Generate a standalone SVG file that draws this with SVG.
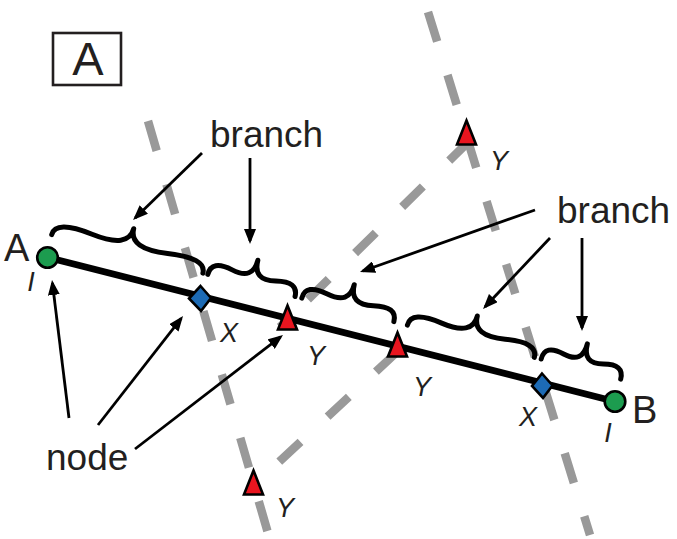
<svg xmlns="http://www.w3.org/2000/svg" width="677" height="539" viewBox="0 0 677 539">
  <style>
    .txt { font-family: "Liberation Sans", Arial, sans-serif; fill: #231f20; }
    .lbl { font-size: 37px; }
    .it { font-size: 27px; font-style: italic; text-anchor: middle; }
    .dash { fill: none; stroke: #999999; stroke-width: 8.5; stroke-linecap: butt; }
    .brace { fill: none; stroke: #000; stroke-width: 5; stroke-linecap: round; stroke-linejoin: round; }
    .arrow { fill: none; stroke: #000; stroke-width: 2.8; marker-end: url(#ah); }
    .tri { fill: #e8151f; stroke: #000; stroke-width: 2.6; stroke-linejoin: miter; }
    .dia { fill: #1d6bb5; stroke: #000; stroke-width: 2.6; }
    .circ { fill: #1c9c4f; stroke: #000; stroke-width: 2.6; }
  </style>
  <defs>
    <marker id="ah" markerUnits="userSpaceOnUse" markerWidth="15" markerHeight="12" refX="12" refY="6" orient="auto">
      <path d="M0,0 L15,6 L0,12 z" fill="#000"/>
    </marker>
  </defs>
  <rect width="677" height="539" fill="#fff"/>

  <!-- panel label -->
  <g id="panel-label">
    <rect x="53" y="33" width="68" height="52" fill="none" stroke="#231f20" stroke-width="2.6"/>
    <text class="txt" x="88" y="75" font-size="47" text-anchor="middle">A</text>
  </g>

  <!-- gray dashed lines -->
  <g id="guides">
    <path class="dash" d="M148,121 L268,533" stroke-dasharray="31 35"/>
    <path class="dash" d="M428,12 L590,535" stroke-dasharray="31 35"/>
    <path class="dash" d="M279.9,327 L468.1,142.1" stroke-dasharray="29 37" stroke-dashoffset="26.6"/>
    <path class="dash" d="M253,486 L397,352" stroke-dasharray="29 37" stroke-dashoffset="30.1"/>
  </g>

  <!-- main segment -->
  <g id="segment">
    <line x1="48" y1="257.5" x2="615" y2="401.5" stroke="#000" stroke-width="6.8"/>
  </g>

  <!-- braces -->
  <g id="braces">
    <path class="brace" transform="translate(51.7,234.7) rotate(14.26)" d="M0,0 Q0,-15.6 39,-10.4 T78,-26 M156,0 Q156,-15.6 117,-10.4 T78,-26"/>
    <path class="brace" transform="translate(207.8,274.4) rotate(14.26)" d="M0,0 Q0,-15.6 22.5,-10.4 T45,-26 M90,0 Q90,-15.6 67.5,-10.4 T45,-26"/>
    <path class="brace" transform="translate(301.8,298.2) rotate(14.26)" d="M0,0 Q0,-15.6 23.75,-10.4 T47.5,-26 M95,0 Q95,-15.6 71.25,-10.4 T47.5,-26"/>
    <path class="brace" transform="translate(407.4,325.1) rotate(14.26)" d="M0,0 Q0,-15.6 32.75,-10.4 T65.5,-26 M131,0 Q131,-15.6 98.25,-10.4 T65.5,-26"/>
    <path class="brace" transform="translate(541.2,359) rotate(14.26)" d="M0,0 Q0,-15.6 20.5,-10.4 T41,-26 M82,0 Q82,-15.6 61.5,-10.4 T41,-26"/>
  </g>

  <!-- connectors (annotation arrows) -->
  <g id="connectors">
    <line class="arrow" x1="202" y1="153" x2="135.2" y2="217.9"/>
    <line class="arrow" x1="250" y1="158" x2="250" y2="241"/>
    <line class="arrow" x1="535" y1="210" x2="362.8" y2="271"/>
    <line class="arrow" x1="550" y1="238" x2="485.1" y2="306.8"/>
    <line class="arrow" x1="582" y1="238" x2="582" y2="328"/>
    <line class="arrow" x1="69" y1="418" x2="52.4" y2="283"/>
    <line class="arrow" x1="98" y1="425" x2="181.2" y2="318.4"/>
    <line class="arrow" x1="135" y1="449" x2="280.6" y2="336.8"/>
  </g>

  <!-- labels -->
  <g id="label-branch-1"><text class="txt lbl" x="210" y="147">branch</text></g>
  <g id="label-branch-2"><text class="txt lbl" x="557" y="223">branch</text></g>
  <g id="label-node"><text class="txt lbl" x="46" y="470">node</text></g>

  <!-- nodes -->
  <g id="node-A">
    <circle class="circ" cx="47.5" cy="257.5" r="10.3"/>
    <text class="txt" x="4" y="261" font-size="38">A</text>
    <text class="txt it" x="31" y="291">I</text>
  </g>
  <g id="node-X1">
    <polygon class="dia" points="200.5,286 211,298 201,311 189,298.5"/>
    <text class="txt it" x="229" y="342">X</text>
  </g>
  <g id="node-Y1">
    <polygon class="tri" points="287.5,305.5 297,329.5 278,329.5"/>
    <text class="txt it" x="316" y="365">Y</text>
  </g>
  <g id="node-Y2">
    <polygon class="tri" points="397.5,332.5 407,356.5 388,356.5"/>
    <text class="txt it" x="422" y="396">Y</text>
  </g>
  <g id="node-X2">
    <polygon class="dia" points="542,373.5 552.5,385.5 543,398 532,386"/>
    <text class="txt it" x="528" y="426">X</text>
  </g>
  <g id="node-B">
    <circle class="circ" cx="615" cy="401.5" r="10.3"/>
    <text class="txt" x="632" y="423" font-size="38">B</text>
    <text class="txt it" x="608" y="442">I</text>
  </g>
  <g id="node-Y3">
    <polygon class="tri" points="466.5,120.5 476,144.5 457,144.5"/>
    <text class="txt it" x="499" y="170">Y</text>
  </g>
  <g id="node-Y4">
    <polygon class="tri" points="253.5,470.5 263,494.5 244,494.5"/>
    <text class="txt it" x="285" y="517">Y</text>
  </g>
</svg>
